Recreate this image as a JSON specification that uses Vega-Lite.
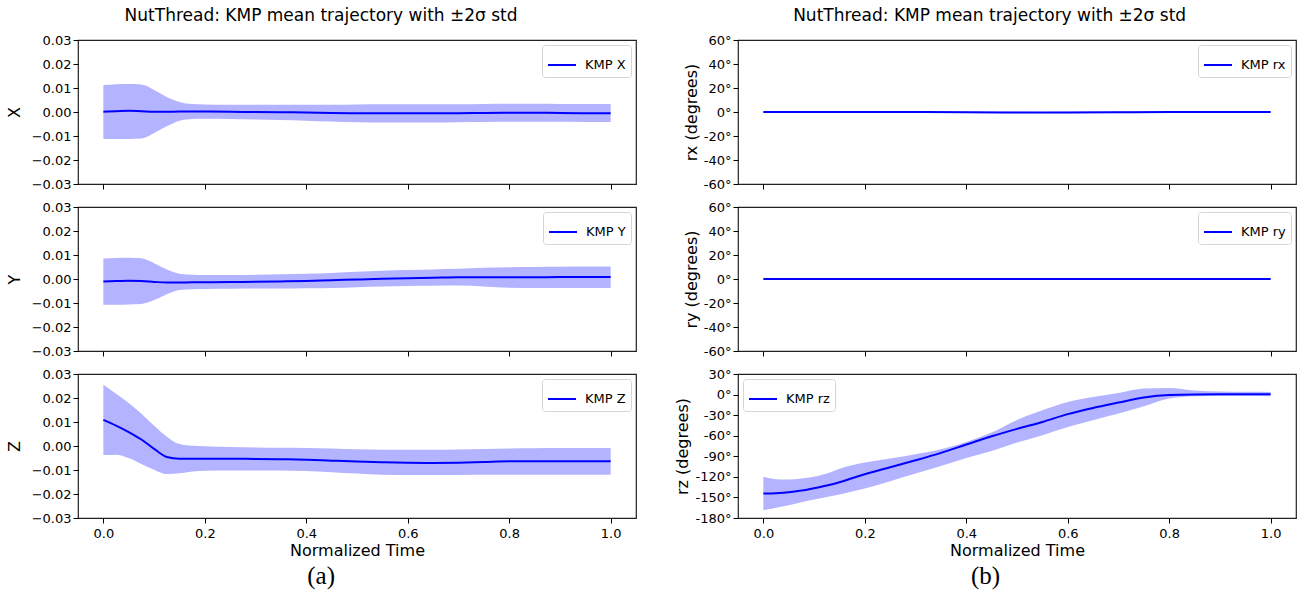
{
  "$schema": "https://vega.github.io/schema/vega-lite/v6.json",
  "background": "white",
  "padding": {"left": 5, "top": 6, "right": 5, "bottom": 5},
  "config": {
    "font": "DejaVu Sans",
    "view": {"stroke": "#222", "strokeWidth": 1.2},
    "axis": {"grid": false, "domain": false, "tickColor": "#000", "tickSize": 5, "tickWidth": 1, "labelFontSize": 13, "labelColor": "#000", "titleFontSize": 16, "titleFontWeight": "normal", "titleColor": "#000", "labelPadding": 2, "labelOverlap": false, "labelBound": false, "labelFlush": false},
    "axisY": {"titlePadding": 9},
    "axisX": {"titlePadding": 2, "labelPadding": 4},
    "legend": {"offset": 5, "padding": 5, "strokeColor": "#d5d5d5", "cornerRadius": 3, "fillColor": "#fff", "labelFontSize": 13, "labelColor": "#000", "symbolType": "stroke", "symbolSize": 784, "symbolStrokeWidth": 2, "labelOffset": 8},
    "title": {"fontSize": 17, "fontWeight": "normal", "anchor": "middle", "frame": "bounds", "offset": 9, "color": "#000"}
  },
  "datasets": {
    "d": [
      {"p": "X", "s": "KMP X", "t": 0, "m": 0.0001, "lo": -0.0112, "hi": 0.0112},
      {"p": "X", "s": "KMP X", "t": 0.025, "m": 0.0003, "lo": -0.0112, "hi": 0.0116},
      {"p": "X", "s": "KMP X", "t": 0.05, "m": 0.0005, "lo": -0.0112, "hi": 0.0117},
      {"p": "X", "s": "KMP X", "t": 0.075, "m": 0.0003, "lo": -0.011, "hi": 0.0115},
      {"p": "X", "s": "KMP X", "t": 0.1, "m": 0.0001, "lo": -0.0087, "hi": 0.0092},
      {"p": "X", "s": "KMP X", "t": 0.125, "m": 0.0001, "lo": -0.0059, "hi": 0.0063},
      {"p": "X", "s": "KMP X", "t": 0.15, "m": 0.0002, "lo": -0.0036, "hi": 0.0042},
      {"p": "X", "s": "KMP X", "t": 0.175, "m": 0.0002, "lo": -0.0029, "hi": 0.0033},
      {"p": "X", "s": "KMP X", "t": 0.2, "m": 0.0002, "lo": -0.0028, "hi": 0.0031},
      {"p": "X", "s": "KMP X", "t": 0.25, "m": 0.0001, "lo": -0.0029, "hi": 0.003},
      {"p": "X", "s": "KMP X", "t": 0.3, "m": 0.0, "lo": -0.0031, "hi": 0.003},
      {"p": "X", "s": "KMP X", "t": 0.35, "m": -0.0001, "lo": -0.0033, "hi": 0.003},
      {"p": "X", "s": "KMP X", "t": 0.4, "m": -0.0002, "lo": -0.0036, "hi": 0.003},
      {"p": "X", "s": "KMP X", "t": 0.45, "m": -0.0004, "lo": -0.004, "hi": 0.003},
      {"p": "X", "s": "KMP X", "t": 0.5, "m": -0.0005, "lo": -0.0043, "hi": 0.0031},
      {"p": "X", "s": "KMP X", "t": 0.55, "m": -0.0005, "lo": -0.0044, "hi": 0.0032},
      {"p": "X", "s": "KMP X", "t": 0.6, "m": -0.0005, "lo": -0.0044, "hi": 0.0032},
      {"p": "X", "s": "KMP X", "t": 0.65, "m": -0.0005, "lo": -0.0044, "hi": 0.0032},
      {"p": "X", "s": "KMP X", "t": 0.7, "m": -0.0005, "lo": -0.0043, "hi": 0.0032},
      {"p": "X", "s": "KMP X", "t": 0.75, "m": -0.0004, "lo": -0.0042, "hi": 0.0033},
      {"p": "X", "s": "KMP X", "t": 0.8, "m": -0.0003, "lo": -0.0041, "hi": 0.0034},
      {"p": "X", "s": "KMP X", "t": 0.85, "m": -0.0003, "lo": -0.0041, "hi": 0.0034},
      {"p": "X", "s": "KMP X", "t": 0.9, "m": -0.0004, "lo": -0.0041, "hi": 0.0033},
      {"p": "X", "s": "KMP X", "t": 0.95, "m": -0.0005, "lo": -0.0042, "hi": 0.0033},
      {"p": "X", "s": "KMP X", "t": 1.0, "m": -0.0005, "lo": -0.0042, "hi": 0.0033},

      {"p": "Y", "s": "KMP Y", "t": 0, "m": -0.001, "lo": -0.0107, "hi": 0.0085},
      {"p": "Y", "s": "KMP Y", "t": 0.025, "m": -0.0008, "lo": -0.0107, "hi": 0.0088},
      {"p": "Y", "s": "KMP Y", "t": 0.05, "m": -0.0007, "lo": -0.0106, "hi": 0.0089},
      {"p": "Y", "s": "KMP Y", "t": 0.075, "m": -0.0008, "lo": -0.0104, "hi": 0.0086},
      {"p": "Y", "s": "KMP Y", "t": 0.1, "m": -0.0012, "lo": -0.0088, "hi": 0.0066},
      {"p": "Y", "s": "KMP Y", "t": 0.125, "m": -0.0015, "lo": -0.0064, "hi": 0.004},
      {"p": "Y", "s": "KMP Y", "t": 0.15, "m": -0.0015, "lo": -0.0046, "hi": 0.0022},
      {"p": "Y", "s": "KMP Y", "t": 0.175, "m": -0.0014, "lo": -0.0043, "hi": 0.0018},
      {"p": "Y", "s": "KMP Y", "t": 0.2, "m": -0.0014, "lo": -0.0042, "hi": 0.0017},
      {"p": "Y", "s": "KMP Y", "t": 0.25, "m": -0.0013, "lo": -0.0041, "hi": 0.0017},
      {"p": "Y", "s": "KMP Y", "t": 0.3, "m": -0.0011, "lo": -0.004, "hi": 0.0018},
      {"p": "Y", "s": "KMP Y", "t": 0.35, "m": -0.001, "lo": -0.004, "hi": 0.002},
      {"p": "Y", "s": "KMP Y", "t": 0.4, "m": -0.0008, "lo": -0.0039, "hi": 0.0022},
      {"p": "Y", "s": "KMP Y", "t": 0.45, "m": -0.0005, "lo": -0.0037, "hi": 0.0025},
      {"p": "Y", "s": "KMP Y", "t": 0.5, "m": -0.0002, "lo": -0.0034, "hi": 0.003},
      {"p": "Y", "s": "KMP Y", "t": 0.55, "m": 0.0001, "lo": -0.0031, "hi": 0.0034},
      {"p": "Y", "s": "KMP Y", "t": 0.6, "m": 0.0003, "lo": -0.0029, "hi": 0.0037},
      {"p": "Y", "s": "KMP Y", "t": 0.65, "m": 0.0005, "lo": -0.0028, "hi": 0.004},
      {"p": "Y", "s": "KMP Y", "t": 0.7, "m": 0.0007, "lo": -0.0027, "hi": 0.0043},
      {"p": "Y", "s": "KMP Y", "t": 0.75, "m": 0.0007, "lo": -0.0031, "hi": 0.0047},
      {"p": "Y", "s": "KMP Y", "t": 0.8, "m": 0.0007, "lo": -0.0036, "hi": 0.0049},
      {"p": "Y", "s": "KMP Y", "t": 0.85, "m": 0.0007, "lo": -0.0038, "hi": 0.005},
      {"p": "Y", "s": "KMP Y", "t": 0.9, "m": 0.0008, "lo": -0.0038, "hi": 0.0051},
      {"p": "Y", "s": "KMP Y", "t": 0.95, "m": 0.0008, "lo": -0.0038, "hi": 0.0052},
      {"p": "Y", "s": "KMP Y", "t": 1.0, "m": 0.0008, "lo": -0.0038, "hi": 0.0052},

      {"p": "Z", "s": "KMP Z", "t": 0, "m": 0.0109, "lo": -0.0038, "hi": 0.0255},
      {"p": "Z", "s": "KMP Z", "t": 0.025, "m": 0.0085, "lo": -0.0036, "hi": 0.0218},
      {"p": "Z", "s": "KMP Z", "t": 0.05, "m": 0.0058, "lo": -0.005, "hi": 0.0179},
      {"p": "Z", "s": "KMP Z", "t": 0.075, "m": 0.0027, "lo": -0.0075, "hi": 0.0134},
      {"p": "Z", "s": "KMP Z", "t": 0.1, "m": -0.0012, "lo": -0.0099, "hi": 0.0084},
      {"p": "Z", "s": "KMP Z", "t": 0.125, "m": -0.0046, "lo": -0.0117, "hi": 0.0039},
      {"p": "Z", "s": "KMP Z", "t": 0.15, "m": -0.0053, "lo": -0.0114, "hi": 0.0008},
      {"p": "Z", "s": "KMP Z", "t": 0.175, "m": -0.0053, "lo": -0.0106, "hi": 0.0001},
      {"p": "Z", "s": "KMP Z", "t": 0.2, "m": -0.0053, "lo": -0.0103, "hi": -0.0001},
      {"p": "Z", "s": "KMP Z", "t": 0.25, "m": -0.0053, "lo": -0.0102, "hi": -0.0004},
      {"p": "Z", "s": "KMP Z", "t": 0.3, "m": -0.0054, "lo": -0.0102, "hi": -0.0006},
      {"p": "Z", "s": "KMP Z", "t": 0.35, "m": -0.0055, "lo": -0.0102, "hi": -0.0007},
      {"p": "Z", "s": "KMP Z", "t": 0.4, "m": -0.0057, "lo": -0.0104, "hi": -0.0008},
      {"p": "Z", "s": "KMP Z", "t": 0.45, "m": -0.0061, "lo": -0.0109, "hi": -0.001},
      {"p": "Z", "s": "KMP Z", "t": 0.5, "m": -0.0065, "lo": -0.0115, "hi": -0.0014},
      {"p": "Z", "s": "KMP Z", "t": 0.55, "m": -0.0068, "lo": -0.012, "hi": -0.0016},
      {"p": "Z", "s": "KMP Z", "t": 0.6, "m": -0.007, "lo": -0.0121, "hi": -0.0016},
      {"p": "Z", "s": "KMP Z", "t": 0.65, "m": -0.0071, "lo": -0.0121, "hi": -0.0016},
      {"p": "Z", "s": "KMP Z", "t": 0.7, "m": -0.007, "lo": -0.0121, "hi": -0.0015},
      {"p": "Z", "s": "KMP Z", "t": 0.75, "m": -0.0067, "lo": -0.012, "hi": -0.0012},
      {"p": "Z", "s": "KMP Z", "t": 0.8, "m": -0.0064, "lo": -0.012, "hi": -0.001},
      {"p": "Z", "s": "KMP Z", "t": 0.85, "m": -0.0064, "lo": -0.012, "hi": -0.0009},
      {"p": "Z", "s": "KMP Z", "t": 0.9, "m": -0.0064, "lo": -0.012, "hi": -0.0008},
      {"p": "Z", "s": "KMP Z", "t": 0.95, "m": -0.0064, "lo": -0.012, "hi": -0.0008},
      {"p": "Z", "s": "KMP Z", "t": 1.0, "m": -0.0064, "lo": -0.012, "hi": -0.0008},

      {"p": "rx", "s": "KMP rx", "t": 0, "m": 0, "lo": -0.6, "hi": 0.6},
      {"p": "rx", "s": "KMP rx", "t": 0.2, "m": 0, "lo": -0.6, "hi": 0.6},
      {"p": "rx", "s": "KMP rx", "t": 0.4, "m": -0.2, "lo": -0.8, "hi": 0.4},
      {"p": "rx", "s": "KMP rx", "t": 0.5, "m": -0.4, "lo": -1.0, "hi": 0.2},
      {"p": "rx", "s": "KMP rx", "t": 0.55, "m": -0.5, "lo": -1.1, "hi": 0.1},
      {"p": "rx", "s": "KMP rx", "t": 0.6, "m": -0.4, "lo": -1.0, "hi": 0.2},
      {"p": "rx", "s": "KMP rx", "t": 0.7, "m": -0.2, "lo": -0.8, "hi": 0.4},
      {"p": "rx", "s": "KMP rx", "t": 0.8, "m": 0, "lo": -0.6, "hi": 0.6},
      {"p": "rx", "s": "KMP rx", "t": 1.0, "m": 0, "lo": -0.6, "hi": 0.6},

      {"p": "ry", "s": "KMP ry", "t": 0, "m": 0, "lo": -0.4, "hi": 0.4},
      {"p": "ry", "s": "KMP ry", "t": 0.5, "m": 0, "lo": -0.4, "hi": 0.4},
      {"p": "ry", "s": "KMP ry", "t": 1.0, "m": 0, "lo": -0.4, "hi": 0.4},

      {"p": "rz", "s": "KMP rz", "t": 0, "m": -144.4, "lo": -168.7, "hi": -120},
      {"p": "rz", "s": "KMP rz", "t": 0.025, "m": -143.8, "lo": -165, "hi": -123.5},
      {"p": "rz", "s": "KMP rz", "t": 0.05, "m": -142.5, "lo": -161.4, "hi": -124},
      {"p": "rz", "s": "KMP rz", "t": 0.075, "m": -140, "lo": -157, "hi": -122.5},
      {"p": "rz", "s": "KMP rz", "t": 0.1, "m": -136.6, "lo": -153.2, "hi": -120},
      {"p": "rz", "s": "KMP rz", "t": 0.125, "m": -132.7, "lo": -149.5, "hi": -115.2},
      {"p": "rz", "s": "KMP rz", "t": 0.15, "m": -127.9, "lo": -145.9, "hi": -108},
      {"p": "rz", "s": "KMP rz", "t": 0.175, "m": -122, "lo": -141.5, "hi": -103},
      {"p": "rz", "s": "KMP rz", "t": 0.2, "m": -116.2, "lo": -137, "hi": -99.2},
      {"p": "rz", "s": "KMP rz", "t": 0.25, "m": -106, "lo": -126.4, "hi": -93.4},
      {"p": "rz", "s": "KMP rz", "t": 0.3, "m": -95.8, "lo": -115.2, "hi": -87},
      {"p": "rz", "s": "KMP rz", "t": 0.35, "m": -85, "lo": -104, "hi": -79.7},
      {"p": "rz", "s": "KMP rz", "t": 0.4, "m": -72.9, "lo": -92.4, "hi": -69},
      {"p": "rz", "s": "KMP rz", "t": 0.45, "m": -60.8, "lo": -82.2, "hi": -55.4},
      {"p": "rz", "s": "KMP rz", "t": 0.5, "m": -50, "lo": -70, "hi": -37},
      {"p": "rz", "s": "KMP rz", "t": 0.55, "m": -39.9, "lo": -59.3, "hi": -22.9},
      {"p": "rz", "s": "KMP rz", "t": 0.6, "m": -28.5, "lo": -47.2, "hi": -10.7},
      {"p": "rz", "s": "KMP rz", "t": 0.65, "m": -19.5, "lo": -37.4, "hi": -3.4},
      {"p": "rz", "s": "KMP rz", "t": 0.7, "m": -11.7, "lo": -27.7, "hi": 2.4},
      {"p": "rz", "s": "KMP rz", "t": 0.75, "m": -4.2, "lo": -17, "hi": 8.8},
      {"p": "rz", "s": "KMP rz", "t": 0.8, "m": -0.5, "lo": -5.8, "hi": 9.7},
      {"p": "rz", "s": "KMP rz", "t": 0.85, "m": 0.2, "lo": -2.4, "hi": 5.8},
      {"p": "rz", "s": "KMP rz", "t": 0.9, "m": 0.3, "lo": -2, "hi": 4.4},
      {"p": "rz", "s": "KMP rz", "t": 0.95, "m": 0.3, "lo": -2.2, "hi": 4},
      {"p": "rz", "s": "KMP rz", "t": 1.0, "m": 0.3, "lo": -2.4, "hi": 3.9}
    ]
  },
  "data": {"name": "d"},
  "hconcat": [
    {
      "title": {"text": "(a)", "orient": "bottom", "font": "Liberation Serif", "fontSize": 25, "offset": 5},
      "spacing": 23,
      "bounds": "flush",
      "resolve": {"scale": {"color": "independent"}},
      "vconcat": [
        {
          "width": 558, "height": 144,
          "title": "NutThread: KMP mean trajectory with ±2σ std",
          "transform": [{"filter": "datum.p === 'X'"}],
          "encoding": {"x": {"field": "t", "type": "quantitative", "scale": {"domain": [-0.05, 1.05], "nice": false, "zero": false}, "axis": {"values": [0, 0.2, 0.4, 0.6, 0.8, 1.0], "labels": false, "title": null}}},
          "layer": [
            {"mark": {"type": "area", "fill": "#b3b3ff", "opacity": 1, "interpolate": "monotone"},
             "encoding": {"y": {"field": "lo", "type": "quantitative", "title": "X", "scale": {"domain": [-0.03, 0.03], "nice": false, "zero": false}, "axis": {"labelOverlap": false, "values": [-0.03, -0.02, -0.01, 0, 0.01, 0.02, 0.03], "labelExpr": "(datum.value < -0.0001 ? '−' : '') + format(abs(datum.value), '.2f')"}}, "y2": {"field": "hi"}}},
            {"mark": {"type": "line", "strokeWidth": 2, "interpolate": "monotone"},
             "encoding": {"y": {"field": "m", "type": "quantitative", "title": "X", "axis": {"labelOverlap": false, "values": [-0.03, -0.02, -0.01, 0, 0.01, 0.02, 0.03], "labelExpr": "(datum.value < -0.0001 ? '−' : '') + format(abs(datum.value), '.2f')"}}, "color": {"field": "s", "type": "nominal", "scale": {"range": ["#0000ff"]}, "legend": {"title": null, "orient": "top-right"}}}}
          ]
        },
        {
          "width": 558, "height": 144,
          "transform": [{"filter": "datum.p === 'Y'"}],
          "encoding": {"x": {"field": "t", "type": "quantitative", "scale": {"domain": [-0.05, 1.05], "nice": false, "zero": false}, "axis": {"values": [0, 0.2, 0.4, 0.6, 0.8, 1.0], "labels": false, "title": null}}},
          "layer": [
            {"mark": {"type": "area", "fill": "#b3b3ff", "opacity": 1, "interpolate": "monotone"},
             "encoding": {"y": {"field": "lo", "type": "quantitative", "title": "Y", "scale": {"domain": [-0.03, 0.03], "nice": false, "zero": false}, "axis": {"labelOverlap": false, "values": [-0.03, -0.02, -0.01, 0, 0.01, 0.02, 0.03], "labelExpr": "(datum.value < -0.0001 ? '−' : '') + format(abs(datum.value), '.2f')"}}, "y2": {"field": "hi"}}},
            {"mark": {"type": "line", "strokeWidth": 2, "interpolate": "monotone"},
             "encoding": {"y": {"field": "m", "type": "quantitative", "title": "Y", "axis": {"labelOverlap": false, "values": [-0.03, -0.02, -0.01, 0, 0.01, 0.02, 0.03], "labelExpr": "(datum.value < -0.0001 ? '−' : '') + format(abs(datum.value), '.2f')"}}, "color": {"field": "s", "type": "nominal", "scale": {"range": ["#0000ff"]}, "legend": {"title": null, "orient": "top-right"}}}}
          ]
        },
        {
          "width": 558, "height": 144,
          "transform": [{"filter": "datum.p === 'Z'"}],
          "encoding": {"x": {"field": "t", "type": "quantitative", "scale": {"domain": [-0.05, 1.05], "nice": false, "zero": false}, "axis": {"values": [0, 0.2, 0.4, 0.6, 0.8, 1.0], "labelExpr": "format(datum.value, '.1f')", "title": "Normalized Time"}}},
          "layer": [
            {"mark": {"type": "area", "fill": "#b3b3ff", "opacity": 1, "interpolate": "monotone"},
             "encoding": {"y": {"field": "lo", "type": "quantitative", "title": "Z", "scale": {"domain": [-0.03, 0.03], "nice": false, "zero": false}, "axis": {"labelOverlap": false, "values": [-0.03, -0.02, -0.01, 0, 0.01, 0.02, 0.03], "labelExpr": "(datum.value < -0.0001 ? '−' : '') + format(abs(datum.value), '.2f')"}}, "y2": {"field": "hi"}}},
            {"mark": {"type": "line", "strokeWidth": 2, "interpolate": "monotone"},
             "encoding": {"y": {"field": "m", "type": "quantitative", "title": "Z", "axis": {"labelOverlap": false, "values": [-0.03, -0.02, -0.01, 0, 0.01, 0.02, 0.03], "labelExpr": "(datum.value < -0.0001 ? '−' : '') + format(abs(datum.value), '.2f')"}}, "color": {"field": "s", "type": "nominal", "scale": {"range": ["#0000ff"]}, "legend": {"title": null, "orient": "top-right"}}}}
          ]
        }
      ]
    },
    {
      "title": {"text": "(b)", "orient": "bottom", "font": "Liberation Serif", "fontSize": 25, "offset": 5},
      "spacing": 23,
      "bounds": "flush",
      "resolve": {"scale": {"color": "independent"}},
      "vconcat": [
        {
          "width": 558, "height": 144,
          "title": "NutThread: KMP mean trajectory with ±2σ std",
          "transform": [{"filter": "datum.p === 'rx'"}],
          "encoding": {"x": {"field": "t", "type": "quantitative", "scale": {"domain": [-0.05, 1.05], "nice": false, "zero": false}, "axis": {"values": [0, 0.2, 0.4, 0.6, 0.8, 1.0], "labels": false, "title": null}}},
          "layer": [
            {"mark": {"type": "area", "fill": "#b3b3ff", "opacity": 1, "interpolate": "monotone"},
             "encoding": {"y": {"field": "lo", "type": "quantitative", "title": "rx (degrees)", "scale": {"domain": [-60, 60], "nice": false, "zero": false}, "axis": {"labelOverlap": false, "titlePadding": 4, "values": [-60, -40, -20, 0, 20, 40, 60], "labelExpr": "(datum.value < 0 ? '-' : '') + abs(datum.value) + '°'"}}, "y2": {"field": "hi"}}},
            {"mark": {"type": "line", "strokeWidth": 2, "interpolate": "monotone"},
             "encoding": {"y": {"field": "m", "type": "quantitative", "title": "rx (degrees)", "axis": {"labelOverlap": false, "titlePadding": 4, "values": [-60, -40, -20, 0, 20, 40, 60], "labelExpr": "(datum.value < 0 ? '-' : '') + abs(datum.value) + '°'"}}, "color": {"field": "s", "type": "nominal", "scale": {"range": ["#0000ff"]}, "legend": {"title": null, "orient": "top-right"}}}}
          ]
        },
        {
          "width": 558, "height": 144,
          "transform": [{"filter": "datum.p === 'ry'"}],
          "encoding": {"x": {"field": "t", "type": "quantitative", "scale": {"domain": [-0.05, 1.05], "nice": false, "zero": false}, "axis": {"values": [0, 0.2, 0.4, 0.6, 0.8, 1.0], "labels": false, "title": null}}},
          "layer": [
            {"mark": {"type": "area", "fill": "#b3b3ff", "opacity": 1, "interpolate": "monotone"},
             "encoding": {"y": {"field": "lo", "type": "quantitative", "title": "ry (degrees)", "scale": {"domain": [-60, 60], "nice": false, "zero": false}, "axis": {"labelOverlap": false, "titlePadding": 4, "values": [-60, -40, -20, 0, 20, 40, 60], "labelExpr": "(datum.value < 0 ? '-' : '') + abs(datum.value) + '°'"}}, "y2": {"field": "hi"}}},
            {"mark": {"type": "line", "strokeWidth": 2, "interpolate": "monotone"},
             "encoding": {"y": {"field": "m", "type": "quantitative", "title": "ry (degrees)", "axis": {"labelOverlap": false, "titlePadding": 4, "values": [-60, -40, -20, 0, 20, 40, 60], "labelExpr": "(datum.value < 0 ? '-' : '') + abs(datum.value) + '°'"}}, "color": {"field": "s", "type": "nominal", "scale": {"range": ["#0000ff"]}, "legend": {"title": null, "orient": "top-right"}}}}
          ]
        },
        {
          "width": 558, "height": 144,
          "transform": [{"filter": "datum.p === 'rz'"}],
          "encoding": {"x": {"field": "t", "type": "quantitative", "scale": {"domain": [-0.05, 1.05], "nice": false, "zero": false}, "axis": {"values": [0, 0.2, 0.4, 0.6, 0.8, 1.0], "labelExpr": "format(datum.value, '.1f')", "title": "Normalized Time"}}},
          "layer": [
            {"mark": {"type": "area", "fill": "#b3b3ff", "opacity": 1, "interpolate": "monotone"},
             "encoding": {"y": {"field": "lo", "type": "quantitative", "title": "rz (degrees)", "scale": {"domain": [-180, 30], "nice": false, "zero": false}, "axis": {"labelOverlap": false, "titlePadding": 4, "values": [-180, -150, -120, -90, -60, -30, 0, 30], "labelExpr": "(datum.value < 0 ? '-' : '') + abs(datum.value) + '°'"}}, "y2": {"field": "hi"}}},
            {"mark": {"type": "line", "strokeWidth": 2, "interpolate": "monotone"},
             "encoding": {"y": {"field": "m", "type": "quantitative", "title": "rz (degrees)", "axis": {"labelOverlap": false, "titlePadding": 4, "values": [-180, -150, -120, -90, -60, -30, 0, 30], "labelExpr": "(datum.value < 0 ? '-' : '') + abs(datum.value) + '°'"}}, "color": {"field": "s", "type": "nominal", "scale": {"range": ["#0000ff"]}, "legend": {"title": null, "orient": "top-left"}}}}
          ]
        }
      ]
    }
  ],
  "spacing": 37,
  "resolve": {"scale": {"color": "independent"}}
}
